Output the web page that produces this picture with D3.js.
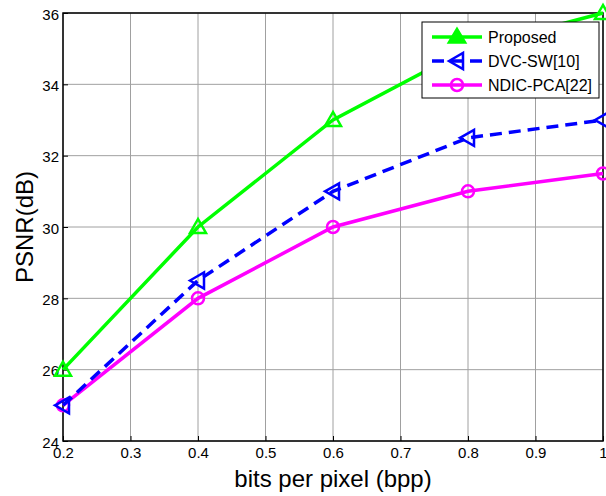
<!DOCTYPE html>
<html>
<head>
<meta charset="utf-8">
<script src="https://cdn.jsdelivr.net/npm/d3@7"></script>
<style>
  body { margin: 0; background: #fff; }
  svg { font-family: "Liberation Sans", Arial, sans-serif; }
</style>
</head>
<body>
<div id="chart"></div>
<script>
// data
var bpp = [0.2, 0.4, 0.6, 0.8, 1.0];
var proposed = [26, 30, 33, 35, 36];
var dvcSW = [25, 28.5, 31, 32.5, 33];
var ndicPCA = [25, 28, 30, 31, 31.5];
var xTicks = [0.2, 0.3, 0.4, 0.5, 0.6, 0.7, 0.8, 0.9, 1];
var yTicks = [24, 26, 28, 30, 32, 34, 36];

var series = [
  {name: "Proposed", values: proposed, color: "#00ff00", dash: null, marker: "tri"},
  {name: "DVC-SW[10]", values: dvcSW, color: "#0000ff", dash: "12,7", marker: "left"},
  {name: "NDIC-PCA[22]", values: ndicPCA, color: "#ff00ff", dash: null, marker: "circle"}
];

var W = 606, H = 496;
var margin = {top: 13, right: 3, bottom: 55, left: 63},
    width = W - margin.left - margin.right,
    height = H - margin.top - margin.bottom;

var svg = d3.select("#chart")
  .append("svg")
  .attr("width", W)
  .attr("height", H)
  .append("g")
  .attr("transform", "translate(" + margin.left + "," + margin.top + ")");

var x = d3.scaleLinear().domain([0.2, 1]).range([0, width]);
var y = d3.scaleLinear().domain([24, 36]).range([height, 0]);

// grid
svg.append("g").selectAll("line")
  .data(xTicks)
  .enter().append("line")
  .attr("x1", function(d) { return x(d); })
  .attr("x2", function(d) { return x(d); })
  .attr("y1", 0).attr("y2", height)
  .attr("stroke", "#a0a0a0").attr("stroke-width", 1);
svg.append("g").selectAll("line")
  .data(yTicks)
  .enter().append("line")
  .attr("y1", function(d) { return y(d); })
  .attr("y2", function(d) { return y(d); })
  .attr("x1", 0).attr("x2", width)
  .attr("stroke", "#a0a0a0").attr("stroke-width", 1);

// axes
var xAxis = svg.append("g")
  .attr("transform", "translate(0," + height + ")")
  .call(d3.axisBottom(x).tickValues(xTicks).tickSize(-5).tickPadding(8).tickFormat(d3.format("")));
var yAxis = svg.append("g")
  .call(d3.axisLeft(y).tickValues(yTicks).tickSize(-5).tickPadding(4));
[xAxis, yAxis].forEach(function(a) {
  a.select(".domain").remove();
  a.selectAll("line").attr("stroke", "#000");
  a.selectAll("text").attr("font-size", 15).attr("fill", "#000")
    .attr("font-family", "Liberation Sans, Arial, sans-serif");
});
yAxis.selectAll("text").attr("dy", "0.4em");
xAxis.selectAll("text").attr("dy", "0.6em");

// frame
svg.append("rect")
  .attr("width", width).attr("height", height)
  .attr("fill", "none").attr("stroke", "#000").attr("stroke-width", 1.5);

// marker drawing
function drawMarker(g, type, color, cx, cy) {
  if (type === "circle") {
    g.append("circle").attr("cx", cx).attr("cy", cy).attr("r", 6)
      .attr("fill", "none").attr("stroke", color).attr("stroke-width", 2.5);
  } else {
    var s = 8;
    var pts = type === "tri"
      ? [[cx, cy - s], [cx - s, cy + s * 0.75], [cx + s, cy + s * 0.75]]
      : [[cx - s, cy], [cx + s * 0.75, cy - s], [cx + s * 0.75, cy + s]];
    g.append("polygon").attr("points", pts.map(function(p) { return p.join(","); }).join(" "))
      .attr("fill", "none").attr("stroke", color).attr("stroke-width", 2.5)
      .attr("stroke-linejoin", "miter");
  }
}

var line = d3.line()
  .x(function(d, i) { return x(bpp[i]); })
  .y(function(d) { return y(d); });

var plot = svg.append("g");
series.slice().reverse().forEach(function(s) {
  plot.append("path")
    .datum(s.values)
    .attr("d", line)
    .attr("fill", "none")
    .attr("stroke", s.color)
    .attr("stroke-width", 3.5)
    .attr("stroke-dasharray", s.dash);
  s.values.forEach(function(v, i) {
    drawMarker(plot, s.marker, s.color, x(bpp[i]), y(v));
  });
});

// x label
svg.append("text")
  .attr("x", width / 2).attr("y", height + 46)
  .attr("text-anchor", "middle")
  .attr("font-size", 24)
  .text("bits per pixel (bpp)");

// y label
svg.append("text")
  .attr("transform", "translate(-30," + (height / 2) + ") rotate(-90)")
  .attr("text-anchor", "middle")
  .attr("font-size", 24)
  .text("PSNR(dB)");

// legend
var lg = svg.append("g").attr("transform", "translate(" + (422 - margin.left) + "," + (22 - margin.top) + ")");
lg.append("rect")
  .attr("width", 177).attr("height", 76)
  .attr("fill", "#fff").attr("stroke", "#000").attr("stroke-width", 1);
series.forEach(function(s, i) {
  var ly = 15 + i * 24;
  lg.append("line")
    .attr("x1", 10).attr("x2", 60).attr("y1", ly).attr("y2", ly)
    .attr("stroke", s.color).attr("stroke-width", 3.5)
    .attr("stroke-dasharray", s.dash);
  if (s.marker === "tri") {
    lg.append("polygon").attr("points", "35,6 26,21 44,21").attr("fill", s.color).attr("stroke", s.color).attr("stroke-width", 1.5);
  } else {
    drawMarker(lg, s.marker, s.color, 35, ly);
  }
  lg.append("text")
    .attr("x", 66).attr("y", ly + 6)
    .attr("font-size", 16)
    .text(s.name);
});
</script>
</body>
</html>
